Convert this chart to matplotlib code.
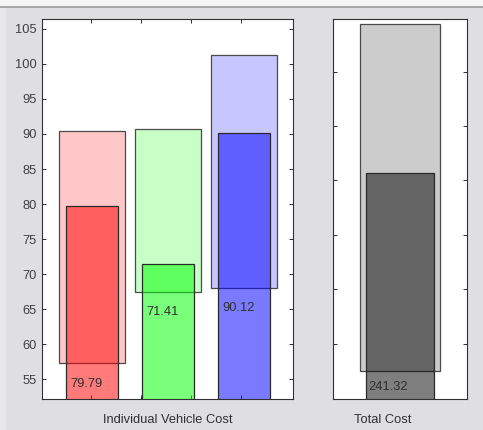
import matplotlib
matplotlib.use("Agg")
import matplotlib.pyplot as plt
from matplotlib.patches import Rectangle
from matplotlib.lines import Line2D

plt.rcParams['font.family'] = ['Liberation Sans', 'DejaVu Sans']

# per-vehicle cost: range (low/high) and actual value
vehicle_colors = ['red', 'lime', 'blue']
vehicle_low = [57.3, 67.5, 68.1]
vehicle_high = [90.4, 90.7, 101.3]
vehicle_cost = [79.79, 71.41, 90.12]

# total cost
total_low = [204.9]
total_high = [268.7]
total_cost = [241.32]

BG = '#dfdfe1'
EDGE = '#4a4a4a'
FS = 9.3

fig = plt.figure(figsize=(4.83, 4.30), dpi=100, facecolor=BG)
W, H = 483.0, 430.0

# window chrome: light strip at top and left, grey divider line
fig.add_artist(Rectangle((0, (H - 6.5) / H), 1, 6.5 / H, transform=fig.transFigure,
                         facecolor='#f5f5f5', edgecolor='none'))
fig.add_artist(Rectangle((0, 0), 6 / W, (H - 6.5) / H, transform=fig.transFigure,
                         facecolor='#e8e8e9', edgecolor='none'))
fig.add_artist(Line2D([0, 1], [(H - 6.7) / H] * 2, transform=fig.transFigure,
                      color='#9a9a9a', lw=1.2))


def style(ax):
    ax.set_facecolor('white')
    for s in ax.spines.values():
        s.set_color('#303030')
        s.set_linewidth(0.8)
    ax.tick_params(direction='in', length=3, width=0.7, colors='#303030',
                   labelcolor='#404040', labelsize=FS, pad=4)


# left panel: individual vehicles
ax1 = fig.add_axes([42 / W, 31 / H, 251 / W, 380 / H])
style(ax1)
xs = [1, 2, 3]
ax1.bar(xs, [h - l for h, l in zip(vehicle_high, vehicle_low)], bottom=vehicle_low,
        width=0.86, color=vehicle_colors, alpha=0.22, edgecolor='none', zorder=2)
ax1.bar(xs, [h - l for h, l in zip(vehicle_high, vehicle_low)], bottom=vehicle_low,
        width=0.86, facecolor='none', edgecolor=EDGE, linewidth=0.9, zorder=2)
ax1.bar(xs, vehicle_cost, width=0.68, color=vehicle_colors, alpha=0.52,
        edgecolor='none', zorder=3)
ax1.bar(xs, vehicle_cost, width=0.68, facecolor='none', edgecolor='#2a2a2a',
        linewidth=0.9, zorder=3)
for x, lo, v in zip(xs, vehicle_low, vehicle_cost):
    ax1.text(x - 0.28, lo - 2.9, f'{v:.2f}', ha='left', va='center',
             fontsize=FS, color='#303030', zorder=4)
ax1.set_xlim(0.342, 3.645)
ax1.set_ylim(52.2, 106.4)
ax1.set_yticks(range(55, 106, 5))
ax1.set_xticks([0.983, 1.64, 2.30, 2.96])
ax1.set_xticklabels([])
ax1.tick_params(top=True, right=True)

# right panel: total
ax2 = fig.add_axes([332.7 / W, 31 / H, 134.6 / W, 380 / H])
style(ax2)
ax2.bar([1], [total_high[0] - total_low[0]], bottom=total_low, width=0.716,
        color='black', alpha=0.2, edgecolor='none', zorder=2)
ax2.bar([1], [total_high[0] - total_low[0]], bottom=total_low, width=0.716,
        facecolor='none', edgecolor=EDGE, linewidth=0.9, zorder=2)
ax2.bar([1], total_cost, width=0.607, color='black', alpha=0.5,
        edgecolor='none', zorder=3)
ax2.bar([1], total_cost, width=0.607, facecolor='none', edgecolor='#2a2a2a',
        linewidth=0.9, zorder=3)
ax2.text(1 - 0.283, total_low[0] - 2.9, f'{total_cost[0]:.2f}', ha='left',
         va='center', fontsize=FS, color='#303030', zorder=4)
ax2.set_xlim(0.4, 1.6)
ax2.set_ylim(199.8, 269.7)
ax2.set_yticks(range(210, 261, 10))
ax2.set_yticklabels([])
ax2.set_xticks([])
ax2.tick_params(right=True)

fig.text(167.5 / W, 1 - 420 / H, 'Individual Vehicle Cost', ha='center',
         va='center', fontsize=FS, color='#303030')
fig.text(383 / W, 1 - 420 / H, 'Total Cost', ha='center', va='center',
         fontsize=FS, color='#303030')

fig.savefig('out.png', dpi=100, facecolor=BG)
